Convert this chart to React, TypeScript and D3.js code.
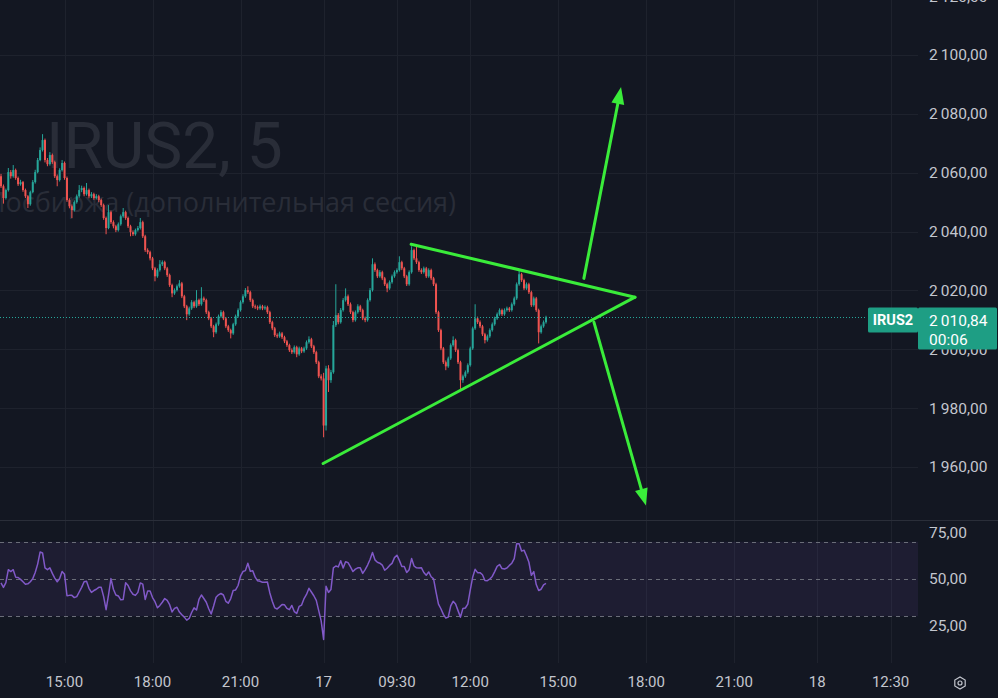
import React, { useEffect, useRef } from "react";
import * as d3 from "d3";

// IRUS2, 5 min candles. open of each bar = close of the bar before
const firstOpen = 2058.8;
const closes = [
  2055.4, 2051.4, 2054.1, 2060.2, 2058.8, 2060.9, 2058.2, 2056.1, 2056.8, 2054.1,
  2052.0, 2049.3, 2053.4, 2056.8, 2060.2, 2064.3, 2067.7, 2071.1, 2064.3, 2062.9,
  2066.0, 2063.6, 2058.8, 2057.5, 2060.9, 2063.3, 2058.2, 2050.7, 2048.6, 2047.3,
  2050.0, 2052.0, 2054.1, 2054.8, 2052.7, 2054.1, 2052.0, 2052.7, 2051.4, 2052.0,
  2050.7, 2049.0, 2044.6, 2041.2, 2046.6, 2043.2, 2041.8, 2040.5, 2042.5, 2045.2,
  2046.6, 2044.6, 2041.8, 2039.8, 2039.1, 2040.5, 2041.2, 2043.2, 2038.4, 2033.7,
  2033.0, 2030.9, 2027.5, 2024.8, 2026.9, 2028.9, 2029.6, 2027.5, 2025.2, 2021.8,
  2019.0, 2020.1, 2021.4, 2022.4, 2018.0, 2014.6, 2011.9, 2013.9, 2016.0, 2014.6,
  2016.7, 2015.3, 2017.3, 2016.7, 2012.6, 2010.5, 2007.8, 2005.8, 2008.5, 2011.2,
  2012.6, 2010.5, 2007.8, 2006.5, 2005.4, 2008.5, 2011.2, 2013.3, 2016.0, 2018.0,
  2020.1, 2019.4, 2016.7, 2014.6, 2014.3, 2013.9, 2014.6, 2013.9, 2014.3, 2012.6,
  2009.2, 2007.1, 2004.8, 2004.4, 2005.4, 2004.1, 2002.7, 2001.4, 1999.7, 1999.0,
  2000.7, 1998.3, 2000.3, 1999.3, 2000.3, 2002.4, 2003.4, 2001.0, 1999.0, 1995.6,
  1990.8, 1990.1, 1974.1, 1993.5, 1989.5, 1992.2, 2008.2, 2011.6, 2009.2, 2013.3,
  2016.7, 2018.0, 2015.3, 2012.6, 2009.9, 2012.6, 2014.6, 2013.3, 2010.5, 2009.9,
  2016.7, 2020.1, 2028.9, 2026.9, 2024.8, 2026.2, 2024.1, 2022.1, 2020.7, 2022.8,
  2024.8, 2026.2, 2026.9, 2029.6, 2027.5, 2024.8, 2022.1, 2026.2, 2033.7, 2030.9,
  2029.6, 2026.9, 2026.2, 2027.5, 2024.8, 2026.9, 2024.1, 2022.1, 2012.6, 2006.5,
  2000.3, 1995.6, 1994.2, 1996.9, 2001.4, 2003.1, 1999.7, 1995.6, 1989.5, 1990.8,
  1992.2, 1994.6, 2000.3, 2007.1, 2010.5, 2009.2, 2007.8, 2005.1, 2003.1, 2004.4,
  2006.5, 2008.5, 2010.5, 2011.9, 2013.3, 2011.9, 2013.3, 2013.9, 2013.3, 2015.3,
  2017.3, 2022.1, 2025.5, 2023.5, 2020.7, 2022.1, 2019.4, 2015.0, 2017.3, 2013.3,
  2005.8, 2007.8, 2009.2, 2010.84,
];
const highs = [
  2059.6, 2056.0, 2054.6, 2061.6, 2060.9, 2062.6, 2061.4, 2058.7, 2057.6, 2057.2,
  2054.6, 2052.4, 2053.9, 2057.5, 2061.0, 2065.0, 2068.6, 2073.1, 2071.6, 2065.0,
  2067.0, 2066.5, 2064.1, 2059.4, 2061.5, 2064.3, 2063.8, 2058.7, 2051.3, 2049.2,
  2050.6, 2052.6, 2055.8, 2055.6, 2055.3, 2056.5, 2054.6, 2053.4, 2053.2, 2052.7,
  2052.5, 2051.2, 2049.5, 2045.1, 2049.0, 2047.1, 2043.8, 2042.3, 2043.1, 2045.8,
  2048.0, 2047.1, 2045.1, 2042.3, 2040.4, 2041.0, 2041.9, 2044.6, 2043.7, 2038.9,
  2034.3, 2033.5, 2031.4, 2028.0, 2027.5, 2030.3, 2030.2, 2030.1, 2028.0, 2025.7,
  2022.3, 2020.7, 2022.0, 2023.5, 2022.9, 2018.5, 2015.1, 2014.5, 2016.7, 2016.5,
  2020.1, 2017.2, 2021.1, 2017.9, 2017.2, 2013.1, 2011.0, 2008.3, 2009.1, 2011.8,
  2013.3, 2013.1, 2011.0, 2008.3, 2007.0, 2009.0, 2011.8, 2013.9, 2016.6, 2018.7,
  2020.8, 2021.4, 2019.9, 2017.2, 2015.2, 2014.9, 2015.2, 2015.1, 2014.9, 2014.8,
  2013.1, 2009.7, 2007.6, 2005.4, 2006.0, 2005.9, 2004.6, 2003.2, 2001.9, 2000.3,
  2001.3, 2001.2, 2000.9, 2000.8, 2000.9, 2003.0, 2004.4, 2003.9, 2001.5, 1999.5,
  1996.1, 1991.5, 1992.0, 1994.4, 1994.6, 1993.0, 2009.6, 2022.1, 2012.3, 2014.0,
  2017.4, 2020.7, 2018.6, 2015.9, 2013.1, 2013.2, 2015.3, 2015.1, 2013.8, 2011.1,
  2017.3, 2020.8, 2030.9, 2029.5, 2027.4, 2026.9, 2026.7, 2024.6, 2022.6, 2023.4,
  2025.4, 2026.8, 2027.5, 2031.6, 2030.1, 2028.0, 2025.3, 2026.8, 2035.0, 2034.2,
  2035.7, 2030.1, 2027.5, 2028.1, 2028.0, 2027.5, 2027.4, 2024.6, 2022.6, 2013.1,
  2007.0, 2000.8, 1996.2, 1997.5, 2002.0, 2004.4, 2003.6, 2000.2, 1996.1, 1991.4,
  1992.8, 1995.2, 2000.9, 2007.7, 2015.3, 2011.1, 2009.8, 2008.3, 2005.6, 2005.0,
  2007.1, 2009.1, 2011.1, 2012.5, 2013.9, 2013.8, 2013.9, 2014.5, 2014.4, 2015.9,
  2017.9, 2022.7, 2026.9, 2026.0, 2024.0, 2022.7, 2022.6, 2019.9, 2017.9, 2017.8,
  2013.8, 2008.4, 2009.8, 2011.4,
];
const lows = [
  2054.8, 2049.5, 2050.9, 2053.6, 2058.0, 2058.3, 2057.6, 2055.5, 2055.6, 2053.5,
  2051.4, 2048.0, 2048.8, 2053.0, 2056.3, 2059.8, 2063.9, 2067.2, 2063.5, 2062.2,
  2062.4, 2063.0, 2058.2, 2055.4, 2057.0, 2060.4, 2057.6, 2050.1, 2047.9, 2044.6,
  2046.8, 2049.5, 2051.5, 2053.4, 2052.0, 2052.2, 2051.3, 2051.4, 2050.8, 2050.9,
  2050.0, 2048.4, 2044.0, 2039.1, 2040.8, 2042.6, 2041.1, 2039.8, 2040.0, 2042.0,
  2044.7, 2044.0, 2041.2, 2038.4, 2038.5, 2038.6, 2040.0, 2040.7, 2037.8, 2033.1,
  2032.3, 2030.2, 2026.9, 2023.1, 2024.3, 2026.4, 2028.3, 2026.9, 2024.6, 2021.2,
  2017.7, 2018.5, 2019.6, 2020.9, 2017.4, 2014.0, 2009.9, 2011.4, 2013.4, 2014.0,
  2014.1, 2014.7, 2014.8, 2016.1, 2012.0, 2009.9, 2007.2, 2004.1, 2005.3, 2008.0,
  2010.7, 2009.9, 2007.2, 2005.9, 2003.7, 2004.9, 2008.0, 2010.7, 2012.8, 2015.5,
  2017.5, 2018.8, 2016.1, 2014.0, 2013.7, 2013.3, 2013.4, 2013.3, 2013.4, 2012.0,
  2008.6, 2006.5, 2004.2, 2003.8, 2003.9, 2003.5, 2002.1, 2000.8, 1999.1, 1998.4,
  1998.5, 1997.3, 1997.8, 1998.7, 1998.8, 1999.8, 2001.9, 2000.4, 1998.4, 1995.0,
  1990.2, 1989.4, 1970.1, 1972.4, 1985.5, 1988.6, 1991.7, 2007.6, 2008.5, 2008.7,
  2012.8, 2016.2, 2014.7, 2012.0, 2009.2, 2009.4, 2012.1, 2012.7, 2009.9, 2009.2,
  2009.4, 2016.2, 2019.6, 2026.3, 2024.2, 2024.3, 2023.5, 2021.5, 2019.4, 2020.2,
  2022.3, 2024.3, 2025.7, 2026.4, 2026.9, 2024.2, 2021.5, 2021.6, 2025.7, 2030.3,
  2029.0, 2026.3, 2025.6, 2025.7, 2024.2, 2024.3, 2023.5, 2021.5, 2012.0, 2005.9,
  1999.7, 1995.0, 1992.9, 1993.7, 1996.4, 2000.9, 1999.1, 1995.0, 1986.1, 1988.6,
  1990.3, 1991.7, 1994.1, 1999.8, 2006.6, 2008.6, 2007.2, 2004.5, 2002.0, 2002.6,
  2003.9, 2006.0, 2008.0, 2010.0, 2011.4, 2011.3, 2011.4, 2012.8, 2012.7, 2012.8,
  2014.8, 2016.8, 2021.6, 2022.9, 2020.1, 2020.2, 2018.8, 2014.4, 2014.5, 2012.7,
  2002.0, 2005.3, 2007.3, 2008.7,
];

// RSI, one value per candle
const rsiValues = [
  47.9, 45.5, 48.0, 55.0, 54.0, 55.0, 51.0, 50.8, 49.8, 48.5,
  47.2, 47.4, 48.5, 50.2, 53.5, 58.0, 64.5, 64.0, 56.0, 55.0,
  56.0, 53.0, 50.5, 48.5, 50.3, 54.0, 52.5, 41.0, 41.2, 41.2,
  40.0, 40.5, 43.0, 45.5, 48.5, 48.8, 45.0, 42.8, 43.8, 44.5,
  45.5, 45.5, 40.5, 33.5, 41.5, 50.2, 44.5, 41.4, 40.9, 38.8,
  39.0, 48.0, 46.5, 43.6, 41.8, 41.2, 42.8, 47.9, 47.2, 39.0,
  43.5, 43.5, 40.0, 37.8, 34.5, 35.8, 37.5, 39.5, 38.5, 36.2,
  32.3, 34.2, 34.8, 32.2, 30.8, 29.5, 27.9, 28.8, 32.0, 34.5,
  33.3, 39.0, 41.4, 39.5, 37.5, 34.0, 31.2, 35.5, 40.2, 41.5,
  42.2, 41.4, 38.0, 37.0, 39.5, 43.8, 44.1, 46.5, 51.5, 54.0,
  54.5, 58.5, 54.2, 54.4, 51.0, 49.0, 48.8, 48.2, 48.3, 48.4,
  42.5, 38.0, 34.5, 33.9, 35.0, 36.3, 36.1, 34.2, 33.5, 35.8,
  32.5, 31.5, 35.3, 36.0, 39.5, 41.7, 45.0, 43.0, 41.0, 38.5,
  33.0, 27.5, 17.5, 46.1, 42.8, 44.3, 56.0, 57.0, 56.5, 59.8,
  55.9, 59.3, 58.8, 56.5, 54.0, 55.3, 56.0, 56.0, 53.0, 55.0,
  57.5, 60.5, 64.3, 60.3, 59.0, 58.5, 57.5, 54.7, 55.8, 57.3,
  58.4, 61.5, 62.8, 60.0, 56.7, 56.7, 53.5, 55.0, 61.0, 57.0,
  56.0, 55.9, 56.1, 53.5, 52.0, 53.8, 51.2, 50.1, 43.0, 36.5,
  34.0, 31.0, 29.0, 29.5, 35.5, 38.0, 36.5, 33.0, 29.5, 34.2,
  34.4, 36.5, 44.0, 51.0, 55.2, 53.4, 53.4, 52.3, 49.2, 49.1,
  50.0, 51.4, 54.0, 56.8, 57.8, 55.6, 55.4, 55.9, 57.3, 58.5,
  61.0, 69.0, 69.0, 65.0, 65.5, 62.5, 59.0, 52.0, 54.0, 47.0,
  43.8, 44.5, 46.8, 47.6,
];

const timeTickBars = [26, 62, 98, 132, 162, 192, 228, 264, 300, 334, 364];
const timeTickLabels = ["15:00", "18:00", "21:00", "17", "09:30", "12:00", "15:00", "18:00", "21:00", "18", "12:30"];
const priceTicks = [2120, 2100, 2080, 2060, 2040, 2020, 2000, 1980, 1960];
const rsiTicks = [75, 50, 25];
const rsiLevels = [70, 50, 30];
const lastPrice = 2010.84;
const symbol = "IRUS2";
const countdown = "00:06";

// hand drawn triangle + arrows, [bar, price]
const triangleTop = [[167.8, 2035.7], [259.4, 2017.7]];
const triangleBottom = [[131.8, 1961.2], [259.4, 2017.7]];
const arrowUp = [[238.5, 2024.1], [253.7, 2089.1]];
const arrowDown = [[242.6, 2009.2], [263.9, 1946.9]];

export default function App() {
  const svgRef = useRef<SVGSVGElement>(null);

  useEffect(() => {
    if (!svgRef.current) return;
    document.body.style.margin = "0";
    document.body.style.background = "#131722";

    const svg = d3.select(svgRef.current);
    svg.selectAll("*").remove();

    const width = 998;
    const height = 698;
    const plotRight = 918;
    const mainBottom = 520;
    const rsiTop = 521;
    const rsiBottom = 663;

    const bg = "#131722";
    const grid = "#1e222d";
    const textColor = "#c3c6ce";
    const up = "#26a69a";
    const down = "#ef5350";
    const green = "#3aec3a";
    const font = "Roboto, 'Noto Sans', sans-serif";

    const loc = d3.formatLocale({ decimal: ",", thousands: "\u2009", grouping: [3], currency: ["", ""] });
    const fmt = loc.format(",.2f");

    // bar index -> x, 2.444px per 5 min bar
    const x = d3.scaleLinear().domain([0, 375]).range([1, 917.5]);
    const y = d3.scaleLinear().domain([1960, 2100]).range([467, 55]);
    const yR = d3.scaleLinear().domain([25, 75]).range([625.5, 532.5]);

    svg.append("rect").attr("width", width).attr("height", height).attr("fill", bg);

    const defs = svg.append("defs");
    defs.append("clipPath").attr("id", "mainClip")
      .append("rect").attr("x", 0).attr("y", 0).attr("width", plotRight).attr("height", mainBottom);
    defs.append("clipPath").attr("id", "rsiClip")
      .append("rect").attr("x", 0).attr("y", rsiTop).attr("width", plotRight).attr("height", rsiBottom - rsiTop);

    // grid
    svg.append("g").selectAll("line").data(timeTickBars).enter().append("line")
      .attr("x1", (d) => Math.round(x(d)) + 0.5).attr("x2", (d) => Math.round(x(d)) + 0.5)
      .attr("y1", 0).attr("y2", rsiBottom)
      .attr("stroke", grid).attr("stroke-width", 1);
    svg.append("g").attr("clip-path", "url(#mainClip)")
      .selectAll("line").data(priceTicks).enter().append("line")
      .attr("x1", 0).attr("x2", plotRight)
      .attr("y1", (d) => Math.round(y(d)) + 0.5).attr("y2", (d) => Math.round(y(d)) + 0.5)
      .attr("stroke", grid).attr("stroke-width", 1);

    // watermark
    svg.append("text").attr("x", 46).attr("y", 168)
      .attr("font-family", font).attr("font-size", 64).attr("fill", "#292d38")
      .text("IRUS2, 5");
    svg.append("text").attr("x", 456).attr("y", 212).attr("text-anchor", "end")
      .attr("font-family", "'Open Sans', sans-serif").attr("font-size", 27).attr("fill", "#292d38")
      .text("Мосбиржа (дополнительная сессия)");

    // candles
    const candles = closes.map((c, i) => ({
      i,
      o: i === 0 ? firstOpen : closes[i - 1],
      h: highs[i],
      l: lows[i],
      c,
    }));
    const cg = svg.append("g").attr("clip-path", "url(#mainClip)");
    cg.selectAll("line.wick").data(candles).enter().append("line")
      .attr("class", "wick")
      .attr("x1", (d) => x(d.i)).attr("x2", (d) => x(d.i))
      .attr("y1", (d) => y(d.h)).attr("y2", (d) => y(d.l))
      .attr("stroke", (d) => (d.c >= d.o ? up : down)).attr("stroke-width", 1);
    cg.selectAll("rect.body").data(candles).enter().append("rect")
      .attr("class", "body")
      .attr("x", (d) => x(d.i) - 1).attr("width", 2)
      .attr("y", (d) => y(Math.max(d.o, d.c)))
      .attr("height", (d) => Math.max(1, Math.abs(y(d.o) - y(d.c))))
      .attr("fill", (d) => (d.c >= d.o ? up : down));

    // last price dotted line
    const yl = Math.round(y(lastPrice)) + 0.5;
    svg.append("line").attr("x1", 0).attr("x2", 866).attr("y1", yl).attr("y2", yl)
      .attr("stroke", up).attr("stroke-width", 1).attr("stroke-dasharray", "1,2");

    // drawings
    const dg = svg.append("g").attr("clip-path", "url(#mainClip)");
    const line = d3.line<number[]>().x((d) => x(d[0])).y((d) => y(d[1]));
    [triangleTop, triangleBottom].forEach((seg) => {
      dg.append("path").attr("d", line(seg)).attr("stroke", green).attr("stroke-width", 3)
        .attr("fill", "none").attr("stroke-linecap", "round");
    });
    [arrowUp, arrowDown].forEach((seg) => {
      const x0 = x(seg[0][0]), y0 = y(seg[0][1]);
      const x1 = x(seg[1][0]), y1 = y(seg[1][1]);
      const len = Math.hypot(x1 - x0, y1 - y0);
      const ux = (x1 - x0) / len, uy = (y1 - y0) / len;
      const headL = 17, headW = 6.5;
      const bx = x1 - ux * headL, by = y1 - uy * headL;
      dg.append("line").attr("x1", x0).attr("y1", y0).attr("x2", bx + ux * 2).attr("y2", by + uy * 2)
        .attr("stroke", green).attr("stroke-width", 3).attr("stroke-linecap", "round");
      dg.append("path")
        .attr("d", `M${x1},${y1}L${bx - uy * headW},${by + ux * headW}L${bx + uy * headW},${by - ux * headW}Z`)
        .attr("fill", green);
    });

    // price axis labels
    svg.append("g").selectAll("text").data(priceTicks).enter().append("text")
      .attr("x", 929).attr("y", (d) => y(d)).attr("dy", "0.35em")
      .attr("font-family", font).attr("font-size", 15.5).attr("fill", textColor)
      .text((d) => fmt(d));

    // last price tags
    const yp = y(lastPrice);
    svg.append("rect").attr("x", 868).attr("y", yp - 10).attr("width", 50).attr("height", 25)
      .attr("rx", 1.5).attr("fill", "#1e9e84");
    svg.append("text").attr("x", 893).attr("y", yp + 2.5).attr("dy", "0.35em").attr("text-anchor", "middle")
      .attr("font-family", font).attr("font-size", 14.5).attr("font-weight", 700).attr("fill", "#ffffff")
      .text(symbol);
    svg.append("rect").attr("x", 918).attr("y", yp - 10).attr("width", 79).attr("height", 42)
      .attr("rx", 1.5).attr("fill", "#1e9e84");
    svg.append("text").attr("x", 929).attr("y", yp + 3).attr("dy", "0.35em")
      .attr("font-family", font).attr("font-size", 15.5).attr("fill", "#ffffff")
      .text(fmt(lastPrice));
    svg.append("text").attr("x", 929).attr("y", yp + 22).attr("dy", "0.35em")
      .attr("font-family", font).attr("font-size", 15.5).attr("fill", "#ffffff")
      .text(countdown);

    // pane separator
    svg.append("line").attr("x1", 0).attr("x2", width).attr("y1", mainBottom + 0.5).attr("y2", mainBottom + 0.5)
      .attr("stroke", "#2a2e39").attr("stroke-width", 1);

    // RSI pane
    svg.append("rect").attr("x", 0).attr("width", plotRight)
      .attr("y", yR(rsiLevels[0])).attr("height", yR(rsiLevels[2]) - yR(rsiLevels[0]))
      .attr("fill", "rgba(126, 87, 194, 0.1)");
    svg.append("g").selectAll("line").data(rsiLevels).enter().append("line")
      .attr("x1", 0).attr("x2", plotRight)
      .attr("y1", (d) => Math.round(yR(d)) + 0.5).attr("y2", (d) => Math.round(yR(d)) + 0.5)
      .attr("stroke", "#6a6d78").attr("stroke-width", 1).attr("stroke-dasharray", "4,4");
    const rsiLine = d3.line<number>().x((_, i) => x(i)).y((d) => yR(d));
    svg.append("path").attr("clip-path", "url(#rsiClip)")
      .attr("d", rsiLine(rsiValues)).attr("fill", "none")
      .attr("stroke", "#8159c8").attr("stroke-width", 1.5).attr("stroke-linejoin", "round");
    svg.append("g").selectAll("text").data(rsiTicks).enter().append("text")
      .attr("x", 929).attr("y", (d) => yR(d)).attr("dy", "0.35em")
      .attr("font-family", font).attr("font-size", 15.5).attr("fill", textColor)
      .text((d) => fmt(d));

    // time axis
    svg.append("g").selectAll("text").data(timeTickBars).enter().append("text")
      .attr("x", (d) => x(d)).attr("y", 682).attr("dy", "0.35em").attr("text-anchor", "middle")
      .attr("font-family", font).attr("font-size", 15).attr("fill", textColor)
      .text((_, i) => timeTickLabels[i]);

    // settings icon
    const hex = d3.range(6).map((k) => {
      const a = (Math.PI / 3) * k + Math.PI / 6;
      return [960 + 6 * Math.cos(a), 683 + 6 * Math.sin(a)];
    });
    svg.append("path").attr("d", "M" + hex.map((p) => p.join(",")).join("L") + "Z")
      .attr("fill", "none").attr("stroke", textColor).attr("stroke-width", 1.2);
    svg.append("circle").attr("cx", 960).attr("cy", 683).attr("r", 2)
      .attr("fill", "none").attr("stroke", textColor).attr("stroke-width", 1.2);
  }, []);

  return (
    <svg
      ref={svgRef}
      width={998}
      height={698}
      style={{ display: "block", position: "absolute", left: 0, top: 0 }}
    />
  );
}
